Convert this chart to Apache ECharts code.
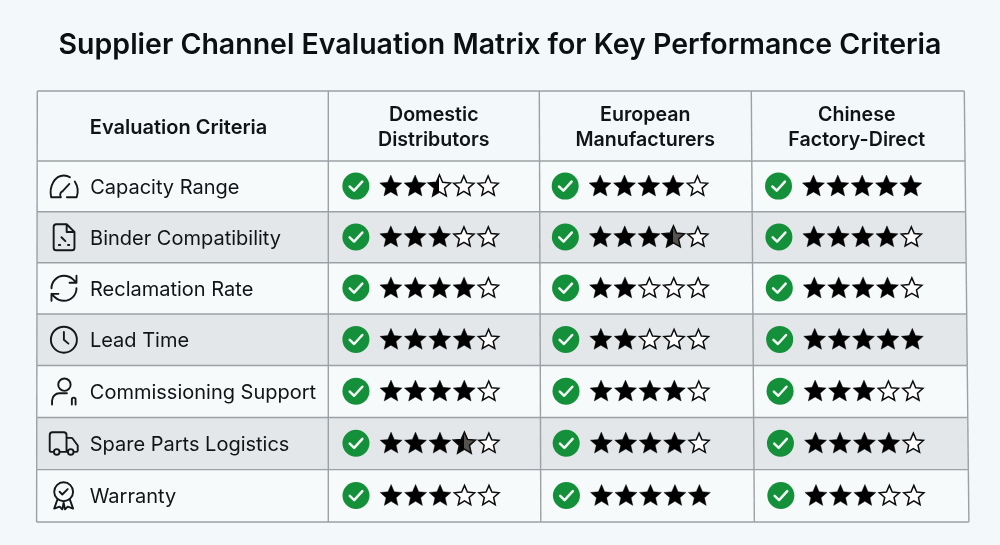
<!DOCTYPE html>
<html>
<head>
<meta charset="utf-8">
<title>Supplier Channel Evaluation Matrix</title>
<script src="https://cdn.jsdelivr.net/npm/echarts@6/dist/echarts.min.js"></script>
</head>
<body style="margin:0;background:#f3f8fa;">
<div id="main" style="width:1000px;height:545px;"></div>
<script type="text/javascript">
var titleText = 'Supplier Channel Evaluation Matrix for Key Performance Criteria';
var firstHeader = 'Evaluation Criteria';
var channels = ['Domestic\nDistributors', 'European\nManufacturers', 'Chinese\nFactory-Direct'];
var criteria = ['Capacity Range', 'Binder Compatibility', 'Reclamation Rate', 'Lead Time',
  'Commissioning Support', 'Spare Parts Logistics', 'Warranty'];
var domesticRatings = [2.5, 3, 4, 4, 4, 3.5, 3];
var europeanRatings = [4, 3.5, 2, 2, 4, 4, 5];
var chineseRatings = [5, 4, 4, 5, 3, 4, 3];

var iconPaths = [
  'M2 20 C0 11 5 2 12.5 2 C14.5 2 16 2.5 17.5 3.5 M21.5 7 C24 11 24.5 16 23 20 L15 20 M2 20 L10 20 M10 20 C8.5 17.5 10 15.5 11.5 15 L17 9',
  'M6 2 L14 2 L20 8 L20 20 A2 2 0 0 1 18 22 L6 22 A2 2 0 0 1 4 20 L4 4 A2 2 0 0 1 6 2 Z M14 2 L14 8 L20 8 M10 12 L13 15 M8 18 L9 18 M15 18 L16 18',
  'M3 12 A9 9 0 0 1 12 3 A9.75 9.75 0 0 1 18.74 5.74 L21 8 M21 3 L21 8 L16 8 M21 12 A9 9 0 0 1 12 21 A9.75 9.75 0 0 1 5.26 18.26 L3 16 M8 16 L3 16 L3 21',
  'M22 12 A10 10 0 1 1 2 12 A10 10 0 1 1 22 12 Z M12 6 L12 12 L15.5 15',
  'M17 7 A5 5 0 1 1 7 7 A5 5 0 1 1 17 7 Z M2 23 L2 20 A6 6 0 0 1 8 14 L14 14 M18 23 L18 19 A1.5 1.5 0 0 1 21 19 L21 23',
  'M14 18 L14 6 A2 2 0 0 0 12 4 L4 4 A2 2 0 0 0 2 6 L2 17 A1 1 0 0 0 3 18 L5 18 M15 18 L9 18 M19 18 L21 18 A1 1 0 0 0 22 17 L22 13.4 L18.3 8.4 A1 1 0 0 0 17.5 8 L14 8 M19 18 A2 2 0 1 1 15 18 A2 2 0 1 1 19 18 Z M9 18 A2 2 0 1 1 5 18 A2 2 0 1 1 9 18 Z',
  'M19 9 A7 7 0 1 1 5 9 A7 7 0 1 1 19 9 Z M9 9 L11 11 L15 7 M7.5 14.5 L5 21.5 L9 20 L11 22 L12 17 M16.5 14.5 L19 21.5 L15 20 L13 22 L12 17'
];
var iconSizes = [27, 26, 25, 26, 26, 28, 27];

var TEXT = '#111417';
var LINE = '#9ba1a5';
var LABEL_COL = 291;
var HEADER_H = 70;
var GRID = { left: 328.3, top: 161, width: 636, height: 361 };
// per-column nudge of the marks, the source table is not quite even
var colNudge = [0, -3, -2];

// the source picture is a little out of square, follow it
function warp(x, y) {
  var t = (y - 91) / (GRID.top + GRID.height - 91);
  var b = Math.max(0, Math.min(1, (y - GRID.top) / GRID.height));
  var k = x < GRID.left ? 0.0024 : 0.0072;
  return [x + (x - GRID.left) * k * t, y - 1.8 * Math.sin(Math.PI * b)];
}

function cell(api, c, r) {
  var p = api.coord([c, r]);
  var s = api.size([1, 1]);
  return { x: p[0] - s[0] / 2, y: p[1] - s[1] / 2, w: s[0], h: s[1], cx: p[0], cy: p[1] };
}

function segment(x1, y1, x2, y2) {
  var a = warp(x1, y1), b = warp(x2, y2);
  return {
    type: 'line',
    shape: { x1: a[0], y1: a[1], x2: b[0], y2: b[1] },
    style: { stroke: LINE, lineWidth: 1.4 }
  };
}

function starPoints(cx, cy, r) {
  var pts = [];
  for (var i = 0; i < 10; i++) {
    var rad = i % 2 ? r * 0.46 : r;
    var a = -Math.PI / 2 + i * Math.PI / 5;
    pts.push([cx + rad * Math.cos(a), cy + rad * Math.sin(a)]);
  }
  return pts;
}

function renderBand(params, api) {
  var r = api.value(1);
  var f = cell(api, 0, r);
  var x0 = GRID.left - LABEL_COL, x1 = GRID.left + GRID.width;
  return {
    type: 'polygon',
    shape: { points: [warp(x0, f.y), warp(x1, f.y), warp(x1, f.y + f.h), warp(x0, f.y + f.h)] },
    style: { fill: r % 2 ? '#e4e7e9' : '#f6fafb' }
  };
}

function renderRow(params, api) {
  var r = api.value(1);
  var f = cell(api, 0, r);
  var x0 = GRID.left - LABEL_COL;
  var kids = [];
  // bottom rule
  kids.push(segment(x0, f.y + f.h, GRID.left + GRID.width, f.y + f.h));
  // verticals of this row
  for (var c = 0; c < 4; c++) {
    var vx = c === 0 ? GRID.left : f.x + c * f.w + (c < 3 ? -1 : 0);
    kids.push(segment(vx, f.y, vx, f.y + f.h));
  }
  kids.push(segment(x0, f.y, x0, f.y + f.h));
  var mid = warp(x0, f.cy);
  var size = iconSizes[r];
  kids.push({
    type: 'path',
    shape: { pathData: iconPaths[r], layout: 'center', x: mid[0] + 27 - size / 2, y: mid[1] - size / 2, width: size, height: size },
    style: { fill: 'none', stroke: '#15181b', lineWidth: 1.9, lineCap: 'round', lineJoin: 'round' }
  });
  kids.push({
    type: 'text',
    style: { x: mid[0] + 53, y: mid[1] + 1.5, text: criteria[r], fill: TEXT,
      font: '400 20px Inter', align: 'left', verticalAlign: 'middle' }
  });
  return { type: 'group', children: kids };
}

function renderHeader(params, api) {
  var c = api.value(0);
  var f = cell(api, c, 0);
  var top = f.y - HEADER_H;
  var kids = [];
  var left = f.x;
  kids.push({
    type: 'text',
    style: { x: f.cx - 0.5 - c * 0.5, y: top + 36.5, text: channels[c], fill: TEXT,
      font: '600 19.6px Inter', lineHeight: 25, align: 'center', verticalAlign: 'middle' }
  });
  var vx = c === 0 ? left : left - 1;
  kids.push(segment(vx, top, vx, f.y));
  if (c === 2) {
    kids.push(segment(left + f.w, top, left + f.w, f.y));
    kids.push(segment(GRID.left - LABEL_COL, top, left + f.w, top));
    kids.push(segment(GRID.left - LABEL_COL, f.y, left + f.w, f.y));
    kids.push(segment(GRID.left - LABEL_COL, top, GRID.left - LABEL_COL, f.y));
    kids.push({
      type: 'text',
      style: { x: GRID.left - 238.5, y: top + 36.5, text: firstHeader, fill: TEXT,
        font: '600 20px Inter', align: 'left', verticalAlign: 'middle' }
    });
  }
  return { type: 'group', children: kids };
}

function renderRating(params, api) {
  var c = api.value(0), r = api.value(1), rating = api.value(2);
  var f = cell(api, c, r);
  var kids = [];
  var nudge = colNudge[c];
  var chk = warp(f.x + 27.5 + nudge, f.cy - 0.3);
  var R = 13.5;
  kids.push({ type: 'circle', shape: { cx: chk[0], cy: chk[1], r: R }, style: { fill: '#14903a' } });
  kids.push({
    type: 'polyline',
    shape: { points: [[chk[0] - 6.2, chk[1] + 0.4], [chk[0] - 1.8, chk[1] + 4.6], [chk[0] + 6.4, chk[1] - 4.4]] },
    style: { fill: 'none', stroke: '#f4fbf6', lineWidth: 2.5, lineCap: 'round', lineJoin: 'round' }
  });
  for (var i = 0; i < 5; i++) {
    var p = warp(f.x + 62.4 + nudge + i * 24.3, f.cy + 0.2);
    var part = rating - i;
    var fill = '#000';
    if (part <= 0) {
      fill = '#ffffff';
    } else if (part < 1) {
      // half stars: left side black, the right side is grey on shaded rows
      var other = r % 2 ? '#56524d' : '#ffffff';
      fill = new echarts.graphic.LinearGradient(0, 0, 1, 0, [
        { offset: 0, color: '#000' }, { offset: part, color: '#000' },
        { offset: part, color: other }, { offset: 1, color: other }
      ]);
    }
    kids.push({
      type: 'polygon',
      shape: { points: starPoints(p[0], p[1], part > 0 ? 11.6 : 10.6) },
      style: { fill: fill, stroke: '#0c0c0c', lineWidth: part >= 1 ? 0.4 : 1.5, lineJoin: 'miter' }
    });
  }
  return { type: 'group', children: kids };
}

function rowData() {
  return criteria.map(function (name, i) { return [0, i]; });
}
function ratingData(c, values) {
  return values.map(function (v, i) { return [c, i, v]; });
}

var myChart = echarts.init(document.getElementById('main'));
var option = {
  animation: false,
  backgroundColor: '#f3f8fa',
  title: {
    text: titleText, left: 'center', top: 26,
    textStyle: { fontFamily: 'Inter', fontWeight: 600, fontSize: 28.5, color: '#0d1012' }
  },
  grid: { left: GRID.left, top: GRID.top, width: GRID.width, height: GRID.height },
  xAxis: { type: 'category', data: channels, show: false },
  yAxis: { type: 'category', data: criteria, inverse: true, show: false },
  series: [
    { type: 'custom', name: 'bands', renderItem: renderBand, data: rowData(), silent: true },
    { type: 'custom', name: 'rows', renderItem: renderRow, data: rowData(), silent: true },
    { type: 'custom', name: 'headers', renderItem: renderHeader,
      data: channels.map(function (n, i) { return [i, 0]; }), silent: true },
    { type: 'custom', name: channels[0], renderItem: renderRating, data: ratingData(0, domesticRatings), silent: true },
    { type: 'custom', name: channels[1], renderItem: renderRating, data: ratingData(1, europeanRatings), silent: true },
    { type: 'custom', name: channels[2], renderItem: renderRating, data: ratingData(2, chineseRatings), silent: true }
  ]
};
myChart.setOption(option);
</script>
</body>
</html>
